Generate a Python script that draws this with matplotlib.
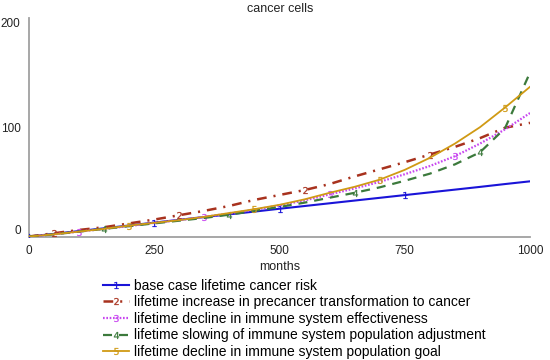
import matplotlib
matplotlib.use('Agg')
import matplotlib.pyplot as plt
from matplotlib.lines import Line2D

plt.rcParams['font.family'] = ['Liberation Sans', 'DejaVu Sans']
plt.rcParams['lines.scale_dashes'] = False

# values, one every 50 months
months = [0, 50, 100, 150, 200, 250, 300, 350, 400, 450, 500,
          550, 600, 650, 700, 750, 800, 850, 900, 950, 1000]
base_case = [0, 2.4, 5, 7.5, 10.1, 12.7, 15.3, 17.8, 20.3, 22.8, 25.4,
             27.9, 30.4, 32.9, 35.4, 37.9, 40.4, 42.9, 45.4, 48, 50.5]
precancer = [0, 3, 6, 8.5, 12, 15.5, 19.5, 23.5, 28, 33.5, 38,
             42.5, 48, 55, 61.5, 68, 75, 82, 90, 99.5, 104]
effectiveness = [0, 2, 4.5, 7, 9.5, 12.5, 15, 18, 21, 24.5, 28.5,
                 33, 38.5, 44, 50, 57, 64.5, 73.5, 85, 98, 113]
adjustment = [0, 2, 4.5, 7, 9.5, 12, 14.5, 17, 20, 23.5, 27,
              31, 35.5, 40, 45, 51, 57.5, 66, 77, 99, 150]
pop_goal = [0, 2, 4.5, 7, 10, 12.5, 15, 18, 21.5, 25, 29,
            34, 40, 45.5, 52, 61, 72, 85, 100, 118, 137]

labels = ['base case lifetime cancer risk',
          'lifetime increase in precancer transformation to cancer',
          'lifetime decline in immune system effectiveness',
          'lifetime slowing of immune system population adjustment',
          'lifetime decline in immune system population goal']
xticks = [0, 250, 500, 750, 1000]
yticks = [0, 100, 200]

series = [base_case, precancer, effectiveness, adjustment, pop_goal]
colors = ['#1a14d8', '#a8321e', '#c846f0', '#3c7a3c', '#d09a14']
styles = ['-', (0, (7, 5, 1.5, 5)), (0, (1.2, 1.2)), (0, (6.5, 5)), '-']
widths = [1.5, 1.8, 1.6, 1.6, 1.3]

fig = plt.figure(figsize=(5.5, 3.6), dpi=100)
ax = fig.add_axes([29 / 550, 1 - 236.5 / 360, 501 / 550, 218.5 / 360])

handles = []
for i, (y, c, ls, lw, lab) in enumerate(zip(series, colors, styles, widths, labels)):
    mk = '$%d$' % (i + 1)
    ax.plot(months, y, color=c, ls=ls, lw=lw, marker=mk, markersize=5,
            mew=0.2, markevery=[i + 5 * j for j in range(4)], zorder=3)
    handles.append(Line2D([], [], color=c, ls=ls, lw=lw, marker=mk,
                          markersize=5, mew=0.2, label=lab))

ax.set_xlim(0, 1000)
ax.set_ylim(0, 200)
ax.set_xticks(xticks)
ax.set_yticks(yticks)
ax.tick_params(length=0, labelsize=8.5, colors='#222222')
ax.tick_params(axis='x', pad=6)
ax.tick_params(axis='y', pad=6)
ylab = ax.get_yticklabels()
ylab[0].set_verticalalignment('bottom')
ylab[-1].set_verticalalignment('top')

for s in ['top', 'right']:
    ax.spines[s].set_visible(False)
for s in ['left', 'bottom']:
    ax.spines[s].set_color('#a0a0a0')
    ax.spines[s].set_linewidth(1.3)

ax.set_xlabel('months', fontsize=9, labelpad=3, color='#222222')
fig.text(280 / 550, 1 - 8.5 / 360, 'cancer cells', ha='center', va='center',
         fontsize=9, color='#222222')

fig.legend(handles=handles, loc='upper left', bbox_to_anchor=(103 / 550, 1 - 278.5 / 360),
           frameon=False, fontsize=10, numpoints=1, handlelength=1.9,
           handletextpad=0.35, labelspacing=0.19, borderpad=0, borderaxespad=0)

fig.savefig('out.png', dpi=100)
